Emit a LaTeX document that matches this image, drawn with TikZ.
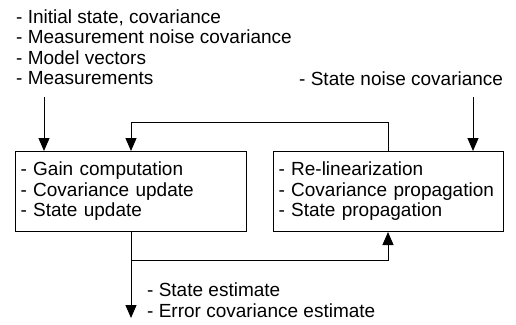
\documentclass[tikz,border=0pt]{standalone}
\usepackage{fontspec}
\setmainfont{Liberation Sans}
\usetikzlibrary{arrows.meta}
\begin{document}
\begin{tikzpicture}[x=1pt,y=-1pt,
  every node/.style={font=\fontsize{19}{20.5}\selectfont},
  proc/.style={draw, line width=1pt, minimum height=80pt, anchor=north west,
    align=left, inner xsep=5pt, inner ysep=0pt},
  txt/.style={align=left, inner sep=0pt},
  flow/.style={line width=1pt, -{Triangle[width=11pt,length=13pt]}},
  link/.style={line width=1pt}]
  \useasboundingbox (0,0) rectangle (516,324);

  % filter blocks
  \node[proc, text width=221pt] (upd) at (15,151)
    {- Gain computation\\- Covariance update\\- State update};
  \node[proc, text width=220pt] (prop) at (273,151)
    {- Re-linearization\\- Covariance propagation\\- State propagation};

  % inputs and outputs
  \node[txt, anchor=north west] (inputs) at (16,9.4)
    {- Initial state, covariance\\- Measurement noise covariance\\- Model vectors\\- Measurements};
  \node[txt, anchor=base west] (qnoise) at (299,85) {- State noise covariance};
  \node[txt, anchor=north west] (outputs) at (147,283)
    {- State estimate\\- Error covariance estimate};

  % routing points
  \coordinate (inL) at (44,97);
  \coordinate (inR) at (473,97);
  \coordinate (fbR) at (388,122);
  \coordinate (fbL) at (131,122);
  \coordinate (br) at (131,260);
  \coordinate (outEnd) at (131,318);

  % connectors
  \draw[flow] (inL) -- (inL |- upd.north);
  \draw[flow] (inR) -- (inR |- prop.north);
  \draw[flow] (prop.north -| fbR) -- (fbR) -- (fbL) -- (fbL |- upd.north);
  \draw[flow] (upd.south -| br) -- (outEnd);
  \draw[flow] (br) -- (br -| fbR) -- (prop.south -| fbR);
\end{tikzpicture}
\end{document}
